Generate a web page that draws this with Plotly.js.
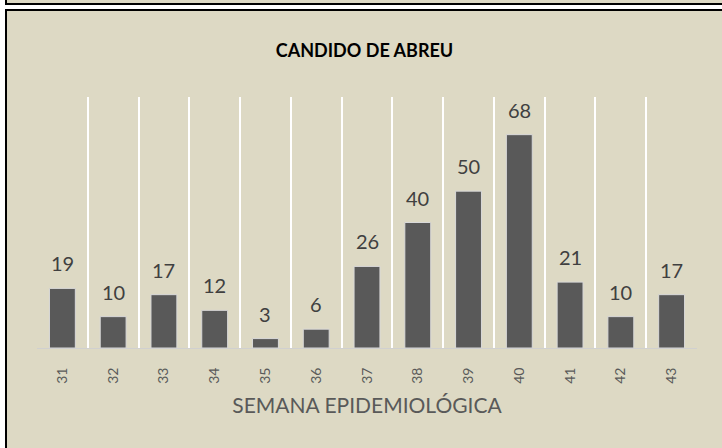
<!DOCTYPE html>
<html>
<head>
<meta charset="utf-8">
<script src="https://cdn.plot.ly/plotly-3.0.1.min.js"></script>
<style>
  html, body { margin: 0; padding: 0; background: #ffffff; width: 722px; height: 448px; overflow: hidden; position: relative; }
  #topstrip { position: absolute; left: 5px; top: -10px; width: 800px; height: 11px; border: 2px solid #000; background: #DDD9C4; }
  #frame { position: absolute; left: 5px; top: 9px; width: 800px; height: 500px; border-left: 2px solid #000; border-top: 2px solid #000; background: #DDD9C4; }
  #chart { position: absolute; left: 7px; top: 11px; width: 715px; height: 437px; }
</style>
</head>
<body>
<div id="topstrip"></div>
<div id="frame"></div>
<div id="chart"></div>
<script>
const weeks = [31, 32, 33, 34, 35, 36, 37, 38, 39, 40, 41, 42, 43];
const cases = [19, 10, 17, 12, 3, 6, 26, 40, 50, 68, 21, 10, 17];
const weekLabels = ["31", "32", "33", "34", "35", "36", "37", "38", "39", "40", "41", "42", "43"];

const fontFam = "Lato, 'Open Sans', sans-serif";

const labels = weeks.map((w, i) => ({
  x: w, y: cases[i], xref: 'x', yref: 'y',
  text: String(cases[i]),
  showarrow: false,
  yanchor: 'middle', xanchor: 'center',
  yshift: 25,
  font: { family: fontFam, size: 20, color: '#404040' }
}));

Plotly.newPlot('chart', [{
  type: 'bar',
  x: weeks,
  y: cases,
  width: 0.51,
  marker: { color: '#595959', line: { color: '#d9d9d9', width: 1 } },
  hoverinfo: 'none'
}], {
  width: 715,
  height: 437,
  margin: { l: 30, r: 25, t: 86, b: 100 },
  paper_bgcolor: '#DDD9C4',
  plot_bgcolor: 'rgba(0,0,0,0)',
  showlegend: false,
  annotations: labels,
  title: {
    text: '<b>CANDIDO DE ABREU</b>',
    x: 0.5, xanchor: 'center',
    y: 1 - 40 / 437, yanchor: 'middle',
    font: { family: fontFam, size: 18, color: '#000000' }
  },
  xaxis: {
    range: [30.5, 43.5],
    tickmode: 'array',
    tickvals: weeks,
    ticktext: weekLabels,
    tickangle: -90,
    tickfont: { family: fontFam, size: 14, color: '#595959' },
    ticks: '',
    ticklabelstandoff: 13,
    showgrid: false,
    showline: true,
    linecolor: '#d0d0d0',
    linewidth: 1,
    zeroline: false,
    minor: { tick0: 30.5, dtick: 1, showgrid: true, gridcolor: '#ffffff', gridwidth: 2, ticks: '' },
    title: {
      text: 'SEMANA EPIDEMIOLÓGICA',
      font: { family: fontFam, size: 21, color: '#595959' },
      standoff: 15
    }
  },
  yaxis: {
    range: [0, 80],
    visible: false,
    showgrid: false,
    zeroline: false
  }
}, { displayModeBar: false, staticPlot: true });
</script>
</body>
</html>
